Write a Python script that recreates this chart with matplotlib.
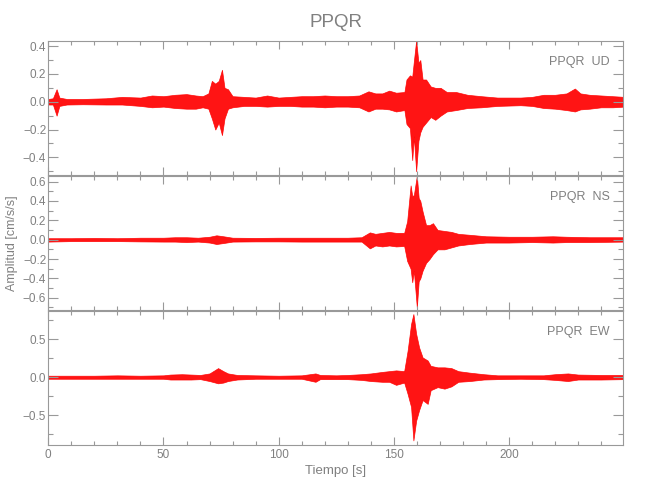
import matplotlib
matplotlib.use("Agg")
import matplotlib.pyplot as plt
from matplotlib import font_manager as fm
from matplotlib.ticker import MultipleLocator, FuncFormatter

# envelope of each trace (upper / lower amplitude)
ud_t = [0, 2, 3.6, 4.8, 8, 15, 25, 32, 40, 45, 50, 55, 60, 64, 67, 69.5, 71, 72.5, 74, 75.4,
        76.5, 78, 80, 85, 90, 95, 100, 105, 110, 115, 120, 125, 130, 135, 139, 142, 145, 148,
        151, 154.6, 155.5, 157, 158, 158.7, 159.7, 160.7, 161.5, 162.5, 164, 166, 168, 170.3,
        173, 177, 182, 188, 195, 205, 210, 215, 220, 225, 228.6, 231, 235, 240, 245, 250]
ud_hi = [0.02, 0.025, 0.09, 0.03, 0.02, 0.02, 0.025, 0.035, 0.03, 0.045, 0.04, 0.05, 0.055,
         0.045, 0.04, 0.06, 0.15, 0.13, 0.15, 0.23, 0.10, 0.09, 0.04, 0.035, 0.03, 0.045, 0.03,
         0.035, 0.04, 0.04, 0.045, 0.04, 0.04, 0.045, 0.075, 0.06, 0.06, 0.08, 0.065, 0.07, 0.16,
         0.19, 0.18, 0.29, 0.44, 0.28, 0.30, 0.16, 0.16, 0.11, 0.10, 0.10, 0.07, 0.07, 0.05, 0.04,
         0.03, 0.03, 0.035, 0.05, 0.05, 0.06, 0.095, 0.06, 0.05, 0.045, 0.04, 0.035]
ud_lo = [-0.02, -0.02, -0.10, -0.03, -0.02, -0.018, -0.02, -0.02, -0.03, -0.04, -0.035, -0.045,
         -0.05, -0.05, -0.04, -0.05, -0.12, -0.20, -0.15, -0.24, -0.12, -0.05, -0.04, -0.03, -0.03,
         -0.035, -0.03, -0.03, -0.035, -0.035, -0.04, -0.035, -0.035, -0.04, -0.07, -0.05, -0.05,
         -0.055, -0.07, -0.06, -0.16, -0.19, -0.42, -0.25, -0.50, -0.28, -0.22, -0.18, -0.15,
         -0.11, -0.13, -0.10, -0.07, -0.06, -0.045, -0.04, -0.03, -0.025, -0.03, -0.045, -0.05,
         -0.06, -0.07, -0.055, -0.05, -0.04, -0.04, -0.035]

ns_t = [0, 10, 20, 30, 40, 50, 55, 60, 65, 70, 73, 76, 80, 90, 100, 110, 120, 130, 136, 139.6,
        142, 145, 148, 151, 154.5, 155.8, 157.3, 158, 158.7, 160, 160.8, 161.5, 162.5, 164,
        165.5, 167, 169, 172, 175, 178, 183, 190, 200, 210, 219, 225, 235, 250]
ns_hi = [0.015, 0.015, 0.018, 0.015, 0.02, 0.02, 0.025, 0.025, 0.02, 0.03, 0.045, 0.035, 0.02,
         0.018, 0.02, 0.02, 0.02, 0.02, 0.025, 0.075, 0.06, 0.07, 0.08, 0.07, 0.07, 0.19, 0.56,
         0.45, 0.46, 0.66, 0.43, 0.40, 0.29, 0.15, 0.15, 0.17, 0.10, 0.09, 0.08, 0.06, 0.05,
         0.035, 0.03, 0.03, 0.035, 0.03, 0.025, 0.025]
ns_lo = [-0.02, -0.015, -0.015, -0.015, -0.018, -0.02, -0.02, -0.025, -0.02, -0.03, -0.045,
         -0.035, -0.02, -0.018, -0.018, -0.02, -0.02, -0.02, -0.02, -0.09, -0.06, -0.07, -0.06,
         -0.07, -0.065, -0.22, -0.30, -0.44, -0.32, -0.70, -0.43, -0.40, -0.32, -0.24, -0.20,
         -0.15, -0.10, -0.10, -0.08, -0.06, -0.045, -0.03, -0.03, -0.025, -0.03, -0.025, -0.025,
         -0.02]

ew_t = [0, 10, 20, 30, 40, 50, 53, 58, 62, 66, 70, 73.7, 76, 78, 82, 90, 100, 110, 116, 118,
        125, 130, 136, 140, 145, 148, 151, 154.5, 156, 157.5, 158.5, 159.7, 161, 162.5, 164.7,
        166, 169, 172, 175, 178, 183, 189, 195, 205, 215, 220, 225.6, 230, 240, 250]
ew_hi = [0.02, 0.02, 0.02, 0.025, 0.02, 0.025, 0.035, 0.04, 0.035, 0.03, 0.05, 0.12, 0.08, 0.05,
         0.03, 0.025, 0.02, 0.025, 0.05, 0.03, 0.025, 0.03, 0.04, 0.05, 0.07, 0.08, 0.09, 0.08,
         0.35, 0.70, 0.83, 0.57, 0.39, 0.26, 0.22, 0.15, 0.13, 0.13, 0.12, 0.08, 0.06, 0.04,
         0.025, 0.025, 0.025, 0.04, 0.05, 0.035, 0.03, 0.03]
ew_lo = [-0.02, -0.02, -0.02, -0.02, -0.02, -0.02, -0.03, -0.03, -0.03, -0.025, -0.05, -0.08,
         -0.07, -0.05, -0.03, -0.02, -0.02, -0.02, -0.06, -0.025, -0.025, -0.025, -0.035, -0.05,
         -0.06, -0.06, -0.10, -0.07, -0.22, -0.39, -0.83, -0.57, -0.43, -0.30, -0.35, -0.17,
         -0.13, -0.15, -0.12, -0.06, -0.05, -0.03, -0.025, -0.02, -0.025, -0.035, -0.05, -0.03,
         -0.03, -0.025]

station = "PPQR"
components = ["UD", "NS", "EW"]
y_limits = [(-0.527, 0.437), (-0.726, 0.657), (-0.89, 0.87)]
y_major = [0.2, 0.2, 0.5]
y_minor = [0.1, 0.1, 0.25]


def pick_font():
    for name in ["Liberation Sans Narrow", "Liberation Sans"]:
        try:
            fm.findfont(fm.FontProperties(family=name), fallback_to_default=False)
            return name
        except Exception:
            pass
    return "DejaVu Sans"


GRAY = "#808080"
plt.rcParams["font.family"] = [pick_font(), "DejaVu Sans"]

fig = plt.figure(figsize=(6.5, 5), dpi=100)
left, width = 48.3 / 650, 574.7 / 650
bottoms = [0.65, 0.38, 0.11]
height = 0.268

traces = [(ud_t, ud_hi, ud_lo), (ns_t, ns_hi, ns_lo), (ew_t, ew_hi, ew_lo)]
minus = FuncFormatter(lambda v, p: f"{v:.1f}".replace("-", "\u2212"))

axes = []
for i, (t, hi, lo) in enumerate(traces):
    ax = fig.add_axes([left, bottoms[i], width, height])
    ax.fill_between(t, lo, hi, color="red", alpha=0.92, lw=0.5)
    ax.set_xlim(0, 249.5)
    ax.set_ylim(*y_limits[i])
    ax.xaxis.set_major_locator(MultipleLocator(50))
    ax.xaxis.set_minor_locator(MultipleLocator(10))
    ax.yaxis.set_major_locator(MultipleLocator(y_major[i]))
    ax.yaxis.set_minor_locator(MultipleLocator(y_minor[i]))
    ax.yaxis.set_major_formatter(minus)
    for s in ax.spines.values():
        s.set_color("#999999")
        s.set_linewidth(0.8)
    ax.tick_params(which="both", direction="in", top=True, right=True,
                   color="#999999", labelcolor=GRAY, labelsize=8.5, width=0.8)
    ax.tick_params(axis="x", which="major", length=6, pad=3)
    ax.tick_params(axis="x", which="minor", length=3)
    ax.tick_params(axis="y", which="major", length=7, pad=1.5)
    ax.tick_params(axis="y", which="minor", length=3.6)
    if i < 2:
        ax.tick_params(axis="x", labelbottom=False)
    ax.text(0.977, 0.842, f"{station}  {components[i]}", transform=ax.transAxes,
            ha="right", va="center", color=GRAY, fontsize=9)
    axes.append(ax)

axes[2].set_xlabel("Tiempo [s]", color=GRAY, fontsize=9.5, labelpad=3)
fig.text(12.5 / 650, 1 - 243 / 500, "Amplitud [cm/s/s]", rotation=90,
         ha="center", va="center", color=GRAY, fontsize=9)
fig.text(left + width / 2, 1 - 22.5 / 500, station, ha="center", va="center",
         color=GRAY, fontsize=13.5)

fig.savefig("out.png", dpi=100)
